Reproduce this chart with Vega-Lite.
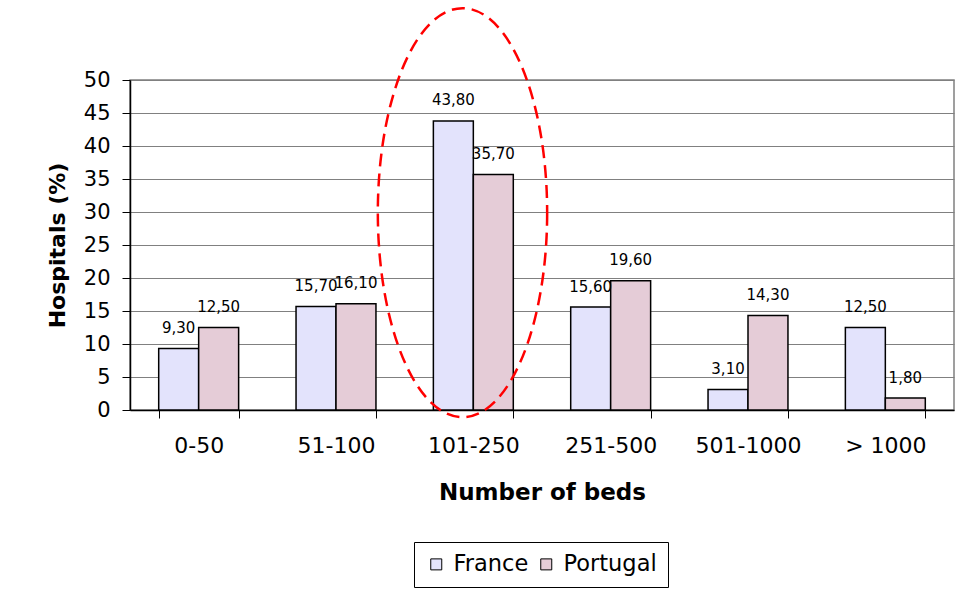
{
  "$schema": "https://vega.github.io/schema/vega-lite/v6.json",
  "width": 824,
  "height": 330,
  "autosize": {"type": "none"},
  "padding": {"left": 130, "top": 80, "right": 16, "bottom": 185},
  "background": "white",
  "config": {
    "locale": {"number": {"decimal": ",", "thousands": ".", "grouping": [3], "currency": ["", " €"]}},
    "view": {"stroke": "#808080", "strokeWidth": 1.5},
    "font": "DejaVu Sans",
    "axisX": {
      "tickBand": "extent", "labelAngle": 0,
      "labelFontSize": 22, "labelColor": "black", "labelFont": "DejaVu Sans",
      "titleFontSize": 23, "titleFontWeight": "bold", "titleColor": "black", "titleFont": "DejaVu Sans",
      "tickSize": 8, "tickColor": "black", "domainColor": "black", "domainWidth": 1.5,
      "labelPadding": 17, "titlePadding": 25, "grid": false
    },
    "axisY": {
      "labelOverlap": false,
      "grid": true, "gridColor": "#808080", "gridWidth": 1,
      "labelFontSize": 21, "labelColor": "black", "labelFont": "DejaVu Sans",
      "titleFontSize": 22, "titleFontWeight": "bold", "titleColor": "black", "titleFont": "DejaVu Sans",
      "tickSize": 8, "tickColor": "black", "domainColor": "black", "domainWidth": 1.5,
      "labelPadding": 12, "titlePadding": 14
    }
  },
  "datasets": {
    "beds": [
      {"group": "0-50", "country": "France", "pct": 9.3},
      {"group": "0-50", "country": "Portugal", "pct": 12.5},
      {"group": "51-100", "country": "France", "pct": 15.7},
      {"group": "51-100", "country": "Portugal", "pct": 16.1},
      {"group": "101-250", "country": "France", "pct": 43.8},
      {"group": "101-250", "country": "Portugal", "pct": 35.7},
      {"group": "251-500", "country": "France", "pct": 15.6},
      {"group": "251-500", "country": "Portugal", "pct": 19.6},
      {"group": "501-1000", "country": "France", "pct": 3.1},
      {"group": "501-1000", "country": "Portugal", "pct": 14.3},
      {"group": "> 1000", "country": "France", "pct": 12.5},
      {"group": "> 1000", "country": "Portugal", "pct": 1.8}
    ],
    "highlight": [
      {"group": "101-250", "y": 29.9}
    ]
  },
  "layer": [
    {
      "data": {"name": "beds"},
      "mark": {"type": "bar", "stroke": "black", "strokeWidth": 1.5},
      "encoding": {
        "x": {
          "field": "group", "type": "nominal",
          "sort": ["0-50", "51-100", "101-250", "251-500", "501-1000", "> 1000"],
          "scale": {"paddingInner": 0.418, "paddingOuter": 0.209},
          "axis": {"title": "Number of beds"}
        },
        "xOffset": {"field": "country", "type": "nominal", "sort": ["France", "Portugal"]},
        "y": {
          "field": "pct", "type": "quantitative",
          "scale": {"domain": [0, 50], "nice": false},
          "axis": {"title": "Hospitals (%)", "values": [0, 5, 10, 15, 20, 25, 30, 35, 40, 45, 50]}
        },
        "color": {
          "field": "country", "type": "nominal",
          "scale": {"domain": ["France", "Portugal"], "range": ["#E3E3FC", "#E5CCD7"]},
          "legend": {
            "title": null, "orient": "none", "legendX": 284, "legendY": 462, "direction": "horizontal",
            "strokeColor": "black", "padding": 11,
            "symbolType": "square", "symbolSize": 121, "symbolStrokeColor": "black", "symbolStrokeWidth": 1,
            "labelFontSize": 22.5, "labelColor": "black", "labelFont": "DejaVu Sans",
            "labelOffset": 6, "columnPadding": 6
          }
        }
      }
    },
    {
      "data": {"name": "beds"},
      "mark": {"type": "text", "baseline": "alphabetic", "dy": -15.5, "fontSize": 15, "font": "DejaVu Sans", "color": "black"},
      "encoding": {
        "x": {"field": "group", "type": "nominal", "sort": ["0-50", "51-100", "101-250", "251-500", "501-1000", "> 1000"], "axis": {"title": "Number of beds"}},
        "xOffset": {"field": "country", "type": "nominal", "sort": ["France", "Portugal"]},
        "y": {"field": "pct", "type": "quantitative", "axis": {"title": "Hospitals (%)", "values": [0, 5, 10, 15, 20, 25, 30, 35, 40, 45, 50]}},
        "text": {"field": "pct", "type": "quantitative", "format": ".2f"}
      }
    },
    {
      "data": {"name": "highlight"},
      "mark": {
        "type": "point",
        "shape": "M 0.361 0 C 0.361 0.5523 0.1757 1 -0.053 1 C -0.2817 1 -0.467 0.5523 -0.467 0 C -0.467 -0.5523 -0.2817 -1 -0.053 -1 C 0.1757 -1 0.361 -0.5523 0.361 0 Z",
        "size": 167281, "filled": false, "stroke": "#FF0000", "strokeWidth": 2.5, "strokeDash": [13, 7], "opacity": 1
      },
      "encoding": {
        "x": {"field": "group", "type": "nominal", "sort": ["0-50", "51-100", "101-250", "251-500", "501-1000", "> 1000"], "axis": {"title": "Number of beds"}},
        "y": {"field": "y", "type": "quantitative", "axis": {"title": "Hospitals (%)", "values": [0, 5, 10, 15, 20, 25, 30, 35, 40, 45, 50]}}
      }
    }
  ]
}
